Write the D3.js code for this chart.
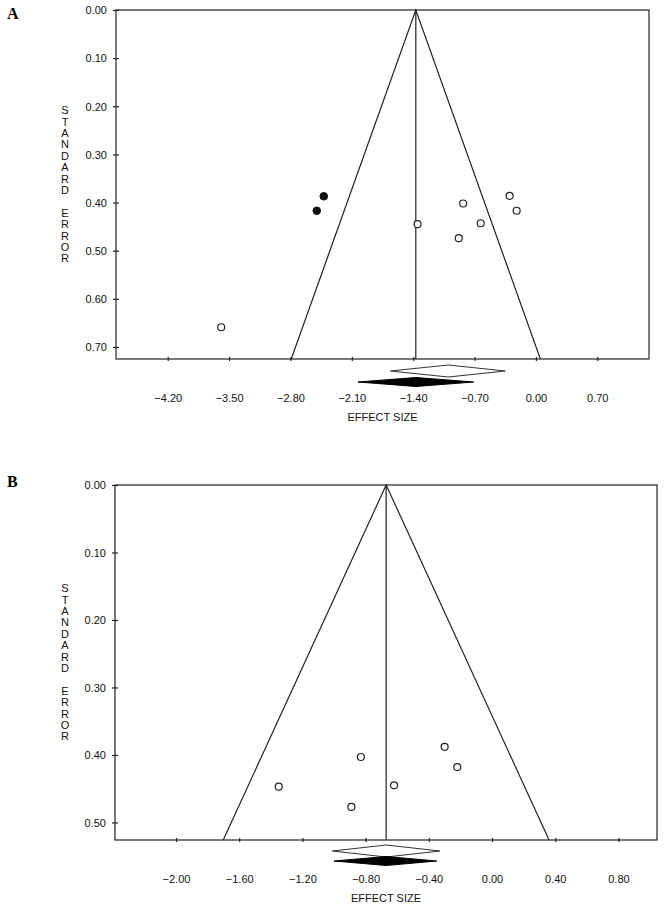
<!DOCTYPE html>
<html><head><meta charset="utf-8">
<script src="https://cdn.jsdelivr.net/npm/d3@7"></script>
<style>body{margin:0;background:#fff}svg{display:block}</style>
</head><body>
<svg id="c" width="666" height="909"></svg>
<script>
// ---------- Panel A data ----------
const obsEffectA = [-3.59, -1.35, -0.88, -0.83, -0.63, -0.30, -0.22];
const obsSeA     = [0.659, 0.445, 0.474, 0.402, 0.443, 0.386, 0.417];
const impEffectA = [-2.42, -2.50];
const impSeA     = [0.387, 0.417];
const pooledA    = -1.37;
const diamondObsA = [-1.66, -1.00, -0.35];   // lower, point, upper
const diamondAdjA = [-2.03, -1.37, -0.71];
const xTicksA = [-4.20, -3.50, -2.80, -2.10, -1.40, -0.70, 0.00, 0.70];
const yTicksA = [0.00, 0.10, 0.20, 0.30, 0.40, 0.50, 0.60, 0.70];
const xDomainA = [-4.79, 1.29];
const yDomainA = [0, 0.725];

// ---------- Panel B data ----------
const obsEffectB = [-1.35, -0.89, -0.83, -0.62, -0.30, -0.22];
const obsSeB     = [0.447, 0.477, 0.403, 0.445, 0.388, 0.418];
const impEffectB = [];
const impSeB     = [];
const pooledB    = -0.67;
const diamondObsB = [-1.01, -0.67, -0.33];
const diamondAdjB = [-1.00, -0.67, -0.35];
const xTicksB = [-2.00, -1.60, -1.20, -0.80, -0.40, 0.00, 0.40, 0.80];
const yTicksB = [0.00, 0.10, 0.20, 0.30, 0.40, 0.50];
const xDomainB = [-2.386, 1.044];
const yDomainB = [0, 0.526];

const yLabel = "STANDARD ERROR";
const xLabel = "EFFECT SIZE";

const svg = d3.select("#c");
const ink = "#222";

function panel(cfg) {
  const g = svg.append("g");
  const x = d3.scaleLinear().domain(cfg.xDomain).range([cfg.left, cfg.right]);
  const y = d3.scaleLinear().domain(cfg.yDomain).range([cfg.top, cfg.bottom]);

  // frame
  g.append("rect").attr("x", cfg.left).attr("y", cfg.top)
    .attr("width", cfg.right - cfg.left).attr("height", cfg.bottom - cfg.top)
    .attr("fill", "none").attr("stroke", ink).attr("stroke-width", 1.2);

  // x axis
  const xa = g.append("g").attr("transform", `translate(0,${cfg.bottom})`)
    .call(d3.axisBottom(x).tickValues(cfg.xTicks).tickFormat(d3.format(".2f")).tickSize(2).tickPadding(0));
  xa.select(".domain").remove();
  xa.selectAll(".tick line").attr("y1", -2).attr("y2", 2).attr("stroke", ink).attr("stroke-width", 1.2);
  xa.selectAll(".tick text").attr("y", 43).attr("dy", 0)
    .attr("font-family", "Liberation Sans, Arial, sans-serif").attr("font-size", 11).attr("fill", "#111");

  // y axis
  const ya = g.append("g").attr("transform", `translate(${cfg.left},0)`)
    .call(d3.axisLeft(y).tickValues(cfg.yTicks).tickFormat(d3.format(".2f")).tickSize(3));
  ya.select(".domain").remove();
  ya.selectAll(".tick line").attr("x1", -3).attr("x2", 3).attr("stroke", ink).attr("stroke-width", 1.2);
  ya.selectAll(".tick text").attr("x", -9).attr("dy", "0.35em")
    .attr("font-family", "Liberation Sans, Arial, sans-serif").attr("font-size", 11).attr("fill", "#111");

  // funnel
  const seMax = cfg.yDomain[1];
  const funnel = [[cfg.pooled - 1.96 * seMax, seMax], [cfg.pooled, 0], [cfg.pooled + 1.96 * seMax, seMax]];
  g.append("path").attr("d", d3.line().x(d => x(d[0])).y(d => y(d[1]))(funnel))
    .attr("fill", "none").attr("stroke", ink).attr("stroke-width", 1.2);
  g.append("line").attr("x1", x(cfg.pooled)).attr("x2", x(cfg.pooled))
    .attr("y1", y(0)).attr("y2", y(seMax)).attr("stroke", ink).attr("stroke-width", 1.2);

  // points
  g.selectAll(".obs").data(cfg.obsEffect.map((e, i) => [e, cfg.obsSe[i]])).join("circle")
    .attr("cx", d => x(d[0])).attr("cy", d => y(d[1])).attr("r", 3.5)
    .attr("fill", "#fff").attr("stroke", ink).attr("stroke-width", 1.2);
  g.selectAll(".imp").data(cfg.impEffect.map((e, i) => [e, cfg.impSe[i]])).join("circle")
    .attr("cx", d => x(d[0])).attr("cy", d => y(d[1])).attr("r", 3.8)
    .attr("fill", "#111").attr("stroke", "#111").attr("stroke-width", 1);

  // diamonds
  function diamond(v, cy, h, filled) {
    const pts = [[x(v[0]), cy], [x(v[1]), cy - h], [x(v[2]), cy], [x(v[1]), cy + h]];
    g.append("path").attr("d", "M" + pts.join("L") + "Z")
      .attr("fill", filled ? "#000" : "#fff").attr("stroke", filled ? "#000" : "#333").attr("stroke-width", 1);
  }
  diamond(cfg.dObs, cfg.bottom + cfg.dObsOff, 6, false);
  diamond(cfg.dAdj, cfg.bottom + cfg.dAdjOff, 4.5, true);

  // x label
  g.append("text").attr("x", (cfg.left + cfg.right) / 2).attr("y", cfg.bottom + 62)
    .attr("text-anchor", "middle").attr("font-family", "Liberation Sans, Arial, sans-serif")
    .attr("font-size", 11).attr("fill", "#111").text(xLabel);

  // y label: stacked letters
  const letters = yLabel.split("");
  const mid = (cfg.top + cfg.bottom) / 2;
  const step = 11.4;
  const start = mid - (letters.length - 1) / 2 * step;
  g.selectAll(".yl").data(letters).join("text")
    .attr("x", 65).attr("y", (d, i) => start + i * step).attr("dy", "0.35em")
    .attr("text-anchor", "middle").attr("font-family", "Liberation Sans, Arial, sans-serif")
    .attr("font-size", 11).attr("fill", "#111").text(d => d);

  // panel letter
  g.append("text").attr("x", 7).attr("y", cfg.letterY)
    .attr("font-family", "Liberation Serif, Times New Roman, serif").attr("font-weight", "bold")
    .attr("font-size", 16).attr("fill", "#000").text(cfg.letter);
}

panel({letter: "A", letterY: 19, left: 116, right: 649, top: 10, bottom: 359,
  xDomain: xDomainA, yDomain: yDomainA, xTicks: xTicksA, yTicks: yTicksA,
  obsEffect: obsEffectA, obsSe: obsSeA, impEffect: impEffectA, impSe: impSeA,
  pooled: pooledA, dObs: diamondObsA, dAdj: diamondAdjA, dObsOff: 12, dAdjOff: 23});

panel({letter: "B", letterY: 487, left: 115, right: 657, top: 485, bottom: 840,
  xDomain: xDomainB, yDomain: yDomainB, xTicks: xTicksB, yTicks: yTicksB,
  obsEffect: obsEffectB, obsSe: obsSeB, impEffect: impEffectB, impSe: impSeB,
  pooled: pooledB, dObs: diamondObsB, dAdj: diamondAdjB, dObsOff: 11, dAdjOff: 21});
</script>
</body></html>
